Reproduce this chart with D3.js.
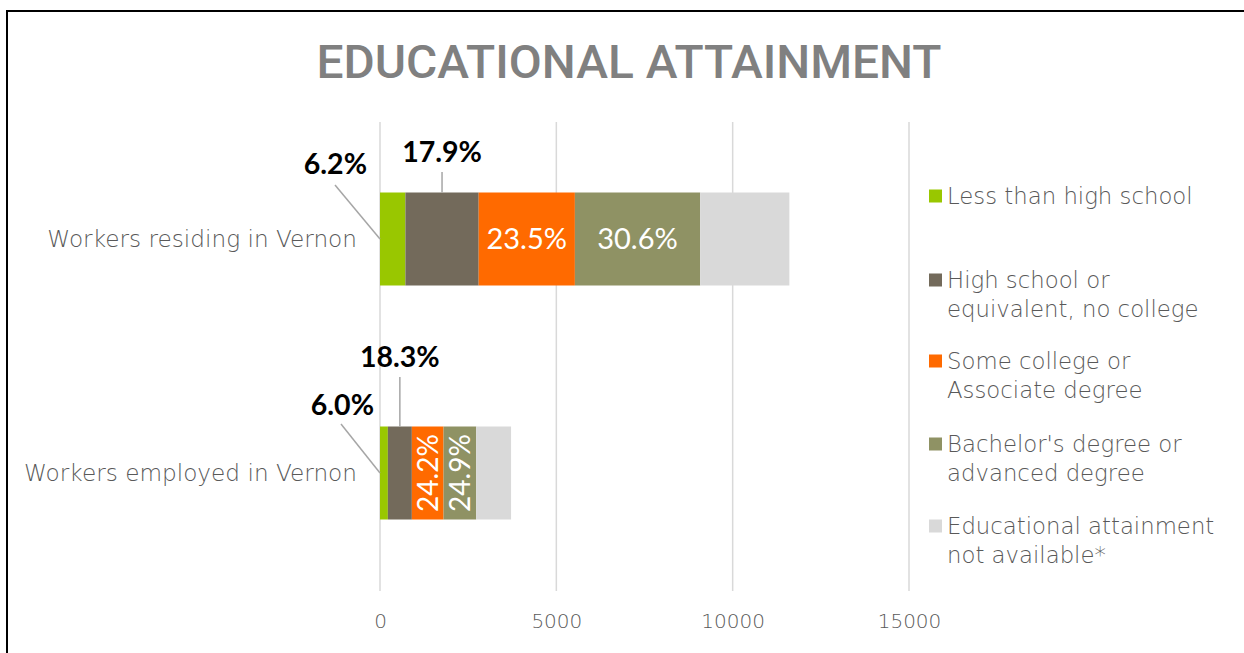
<!DOCTYPE html>
<html>
<head>
<meta charset="utf-8">
<script src="https://cdn.jsdelivr.net/npm/d3@7"></script>
<style>
  body { margin: 0; background: #fff; }
  svg { display: block; }
  .cat-label { font-family: "DejaVu Sans", sans-serif; font-weight: 200; fill: #595959; }
  .legend-text { font-family: "DejaVu Sans", sans-serif; font-weight: 200; fill: #595959; }
  .tick-label { font-family: "DejaVu Sans", sans-serif; font-weight: 200; fill: #595959; }
  .data-label { font-family: Lato, "Open Sans", sans-serif; }
</style>
</head>
<body>
<div id="chart"></div>
<script>
// ---- data ----
const categories = ["Workers residing in Vernon", "Workers employed in Vernon"];
const seriesKeys = ["less", "hs", "some", "bach", "na"];
const seriesNames = [
  ["Less than high school"],
  ["High school or", "equivalent, no college"],
  ["Some college or", "Associate degree"],
  ["Bachelor's degree or", "advanced degree"],
  ["Educational attainment", "not available*"]
];
const residingValues = [720, 2078, 2728, 3552, 2530];
const employedValues = [223, 680, 899, 925, 989];
const xTicks = [0, 5000, 10000, 15000];
const colors = ["#99C700", "#736A5B", "#FF6A00", "#8F9264", "#D9D9D9"];

const width = 1244, height = 653;

const svg = d3.select("#chart").append("svg")
  .attr("width", width)
  .attr("height", height);

// outer frame (only top and left visible in the picture)
svg.append("rect")
  .attr("x", 7).attr("y", 11)
  .attr("width", 1400).attr("height", 800)
  .attr("fill", "none")
  .attr("stroke", "#000")
  .attr("stroke-width", 2);

// title
svg.append("text")
  .attr("x", 629).attr("y", 78)
  .attr("text-anchor", "middle")
  .attr("textLength", 625)
  .attr("lengthAdjust", "spacingAndGlyphs")
  .style("font-family", "Roboto, sans-serif")
  .style("font-weight", 500)
  .style("font-size", "47px")
  .style("fill", "#808080")
  .text("EDUCATIONAL ATTAINMENT");

// scales
const xScale = d3.scaleLinear().domain([0, 15000]).range([380, 909]);
const yScale = d3.scalePoint().domain(categories).range([122, 590]).padding(0.5);
const barH = 93;

// gridlines
svg.append("g").selectAll("line")
  .data(xTicks)
  .join("line")
  .attr("x1", d => xScale(d)).attr("x2", d => xScale(d))
  .attr("y1", 122).attr("y2", 591)
  .attr("stroke", "#D9D9D9")
  .attr("stroke-width", 1.5);

// x axis
const xAxis = d3.axisBottom(xScale)
  .tickValues(xTicks)
  .tickFormat(d3.format("d"))
  .tickSize(0).tickPadding(0);
const xAxisG = svg.append("g")
  .attr("transform", "translate(0,614)")
  .call(xAxis)
  .call(g => g.select(".domain").remove());
xAxisG.selectAll("text")
  .attr("class", "tick-label")
  .attr("dy", "0.71em")
  .style("font-size", "20px");

// stack
const rows = categories.map((c, i) => {
  const vals = i === 0 ? residingValues : employedValues;
  const row = { cat: c };
  seriesKeys.forEach((k, j) => row[k] = vals[j]);
  return row;
});
const stacked = d3.stack().keys(seriesKeys)(rows);

const layers = svg.append("g").selectAll("g")
  .data(stacked)
  .join("g")
  .attr("fill", (d, i) => colors[i]);

layers.selectAll("rect")
  .data(d => d)
  .join("rect")
  .attr("x", d => xScale(d[0]))
  .attr("width", d => xScale(d[1]) - xScale(d[0]))
  .attr("y", d => yScale(d.data.cat) - barH / 2)
  .attr("height", barH);

// category labels
svg.append("g").selectAll("text")
  .data(categories)
  .join("text")
  .attr("class", "cat-label")
  .attr("x", 357)
  .attr("y", d => yScale(d))
  .attr("dy", "0.35em")
  .attr("text-anchor", "end")
  .style("font-size", "23.2px")
  .text(d => d);

// data labels
const totals = rows.map(r => d3.sum(seriesKeys, k => r[k]));
const pct = (v, t) => (v / t * 100).toFixed(1) + "%";

// outside labels with leader lines
const outside = [
  { r: 0, s: 0, lx: 367, ly: 164, anchor: "end", from: [335, 185], to: "left" },
  { r: 0, s: 1, lx: null, ly: 152, anchor: "middle", from: [null, 172], to: "top" },
  { r: 1, s: 0, lx: 374, ly: 405, anchor: "end", from: [341, 424], to: "left" },
  { r: 1, s: 1, lx: null, ly: 357, anchor: "middle", from: [null, 377], to: "top" }
];
outside.forEach(o => {
  const seg = stacked[o.s][o.r];
  const cx = (xScale(seg[0]) + xScale(seg[1])) / 2;
  const cy = yScale(categories[o.r]);
  const x2 = o.to === "left" ? xScale(seg[0]) : cx;
  const y2 = o.to === "left" ? cy : cy - barH / 2;
  svg.append("line")
    .attr("x1", o.from[0] === null ? cx : o.from[0])
    .attr("y1", o.from[1])
    .attr("x2", x2).attr("y2", y2)
    .attr("stroke", "#A6A6A6")
    .attr("stroke-width", 1.5);
  svg.append("text")
    .attr("class", "data-label")
    .attr("x", o.lx === null ? cx : o.lx)
    .attr("y", o.ly)
    .attr("dy", "0.35em")
    .attr("text-anchor", o.anchor)
    .style("font-size", "28.5px")
    .style("font-weight", 700)
    .style("fill", "#000")
    .text(pct(seg.data[seriesKeys[o.s]], totals[o.r]));
});

// inside labels (white)
[2, 3].forEach(s => {
  stacked[s].forEach((seg, r) => {
    const cx = (xScale(seg[0]) + xScale(seg[1])) / 2;
    const cy = yScale(categories[r]);
    const t = svg.append("text")
      .attr("class", "data-label")
      .attr("text-anchor", "middle")
      .attr("dy", "0.35em")
      .style("fill", "#fff")
      .style("font-size", r === 0 ? "29px" : "28px")
      .text(pct(seg.data[seriesKeys[s]], totals[r]));
    if (r === 0) t.attr("x", cx).attr("y", cy);
    else t.attr("transform", `translate(${cx},${cy}) rotate(-90)`);
  });
});

// legend
const legendTop = [196, 280, 361, 444, 526];
const legend = svg.append("g").selectAll("g")
  .data(seriesNames)
  .join("g")
  .attr("transform", (d, i) => `translate(929,${legendTop[i]})`);
legend.append("rect")
  .attr("x", 0).attr("y", -6.5)
  .attr("width", 13).attr("height", 13)
  .attr("fill", (d, i) => colors[i]);
legend.append("text")
  .attr("class", "legend-text")
  .style("font-size", "22.8px")
  .selectAll("tspan")
  .data(d => d)
  .join("tspan")
  .attr("x", 18)
  .attr("y", (d, i) => i * 29)
  .attr("dy", "0.35em")
  .text(d => d);
</script>
</body>
</html>
